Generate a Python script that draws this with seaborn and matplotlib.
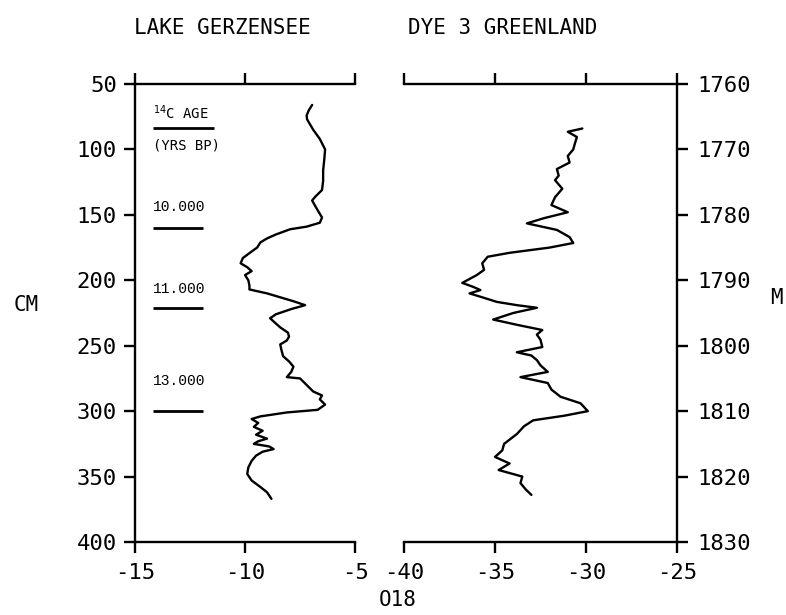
import numpy as np
import pandas as pd
import seaborn as sns
import matplotlib.pyplot as plt

# Lake Gerzensee: depth (cm) vs d18O
gerz_cm = [66, 70, 74, 77, 85, 92, 100, 108, 116, 124, 131, 136, 139, 145, 152, 156, 159, 161,
           165, 168, 171, 175, 178, 183, 187, 190, 193, 196, 200, 204, 207, 210, 213, 216,
           219, 222, 226, 229, 233, 236, 240, 243, 246, 249, 253, 258, 262, 266, 270, 274,
           275, 280, 285, 288, 291, 295, 299, 301, 304, 306, 309, 312, 315, 318, 321, 323,
           325, 327, 329, 331, 334, 338, 343, 348, 353, 358, 362, 367]
gerz_o18 = [-6.95, -7.1, -7.2, -7.18, -6.9, -6.6, -6.36, -6.4, -6.45, -6.45, -6.5, -6.8,
            -6.95, -6.75, -6.5, -6.6, -7.2, -7.95, -8.6, -9.0, -9.3, -9.45, -9.7, -10.1,
            -10.2, -9.9, -9.7, -10.0, -9.85, -9.8, -9.8, -9.0, -8.4, -7.8, -7.27, -7.9,
            -8.6, -8.86, -8.6, -8.4, -8.05, -8.0, -8.1, -8.4, -8.35, -8.27, -8.0, -7.8,
            -7.9, -8.1, -7.5, -7.2, -6.9, -6.5, -6.6, -6.36, -6.7, -8.1, -9.3, -9.7, -9.4,
            -9.6, -9.2, -9.5, -9.0, -9.4, -9.6, -8.9, -8.7, -9.2, -9.5, -9.7, -9.85, -9.9,
            -9.7, -9.3, -9.0, -8.8]

# Dye 3 Greenland: depth (m) vs d18O
dye_m = [1766.8, 1767.3, 1768.1, 1769.0, 1770.0, 1771.0, 1772.0, 1773.0, 1774.0, 1774.7,
         1776.0, 1777.3, 1778.5, 1779.6, 1780.5, 1781.3, 1782.3, 1783.4, 1784.3, 1785.0,
         1785.8, 1786.4, 1787.4, 1788.4, 1789.2, 1790.4, 1791.0, 1791.5, 1792.0, 1792.6,
         1793.3, 1793.8, 1794.2, 1795.0, 1796.0, 1796.8, 1797.6, 1798.3, 1799.1, 1800.2,
         1801.0, 1801.5, 1802.2, 1803.0, 1804.0, 1804.8, 1805.7, 1806.7, 1807.8, 1808.8,
         1810.0, 1810.7, 1811.4, 1812.3, 1813.5, 1815.0, 1816.0, 1817.0, 1818.0, 1819.0,
         1820.0, 1821.0, 1822.0, 1822.8]
dye_o18 = [-30.2, -31.0, -30.5, -30.6, -30.7, -31.0, -30.9, -31.6, -31.5, -31.7,
           -31.3, -31.7, -31.9, -31.0, -32.3, -33.25, -31.6, -30.9, -30.7, -32.0,
           -34.2, -35.4, -35.7, -35.6, -36.0, -36.8, -36.2, -35.8, -36.4, -35.7,
           -34.9, -33.8, -32.7, -34.0, -35.1, -33.8, -32.4, -32.7, -32.5, -32.4,
           -33.8, -33.0, -32.7, -32.5, -32.1, -33.6, -32.1, -31.9, -31.4, -30.3,
           -29.9, -31.2, -32.9, -33.4, -33.8, -34.5, -34.6, -35.0, -34.2, -34.8,
           -33.5, -33.6, -33.3, -33.0]

age_labels = ['10.000', '11.000', '13.000']
age_cm = [160, 221, 300]
age_text_cm = [144, 207, 277]

sns.set_style('ticks', {'axes.edgecolor': 'black', 'text.color': 'black',
                        'xtick.color': 'black', 'ytick.color': 'black'})
plt.rcParams['font.family'] = ['DejaVu Sans Mono']
plt.rcParams['axes.unicode_minus'] = False

fig = plt.figure(figsize=(7.86, 6.15), dpi=100)
ax1 = fig.add_axes([0.1718, 0.1187, 0.2799, 0.7447])
ax2 = fig.add_axes([0.514, 0.1187, 0.3473, 0.7447])

gerz = pd.DataFrame({'o18': gerz_o18, 'cm': gerz_cm})
dye = pd.DataFrame({'o18': dye_o18, 'm': dye_m})
sns.lineplot(data=gerz, x='o18', y='cm', sort=False, estimator=None, color='black', lw=1.7, ax=ax1)
sns.lineplot(data=dye, x='o18', y='m', sort=False, estimator=None, color='black', lw=1.7, ax=ax2)

ax1.set_xlim(-15, -5)
ax1.set_ylim(400, 50)
ax1.set_xticks([-15, -10, -5])
ax1.set_yticks(range(50, 401, 50))
ax2.set_xlim(-40, -25)
ax2.set_ylim(1830, 1760)
ax2.set_xticks([-40, -35, -30, -25])
ax2.set_yticks(range(1760, 1831, 10))

for ax in (ax1, ax2):
    ax.set_xlabel('')
    ax.set_ylabel('')
    for s in ax.spines.values():
        s.set_linewidth(1.7)
    ax.tick_params(width=1.7, length=8, labelsize=16, direction='out', top=True, labeltop=False,
                   colors='black')
    ax.tick_params(axis='x', pad=7)

ax1.spines['right'].set_visible(False)
ax2.spines['left'].set_visible(False)
ax1.tick_params(axis='y', pad=5)
ax2.tick_params(axis='y', left=False, labelleft=False, right=True, labelright=True, pad=7)

# 14C age annotation
ax1.text(-14.2, 72, '$^{14}$C AGE', fontsize=10, va='center', color='black')
ax1.hlines(84, -14.2, -11.4, color='black', lw=2)
ax1.text(-14.2, 97, '(YRS BP)', fontsize=10, va='center', color='black')
for lab, d, td in zip(age_labels, age_cm, age_text_cm):
    ax1.text(-14.2, td, lab, fontsize=10.5, family='Liberation Mono', va='center', color='black')
    ax1.hlines(d, -14.2, -11.9, color='black', lw=2)

fig.text(0.170, 0.955, 'LAKE GERZENSEE', fontsize=15, ha='left', va='center', color='black')
fig.text(0.519, 0.955, 'DYE 3 GREENLAND', fontsize=15, ha='left', va='center', color='black')
fig.text(0.034, 0.504, 'CM', fontsize=15, ha='center', va='center', color='black')
fig.text(0.988, 0.515, 'M', fontsize=15, ha='center', va='center', color='black')
fig.text(0.506, 0.025, 'O18', fontsize=15, ha='center', va='center', color='black')

fig.savefig('out.png', dpi=100)
